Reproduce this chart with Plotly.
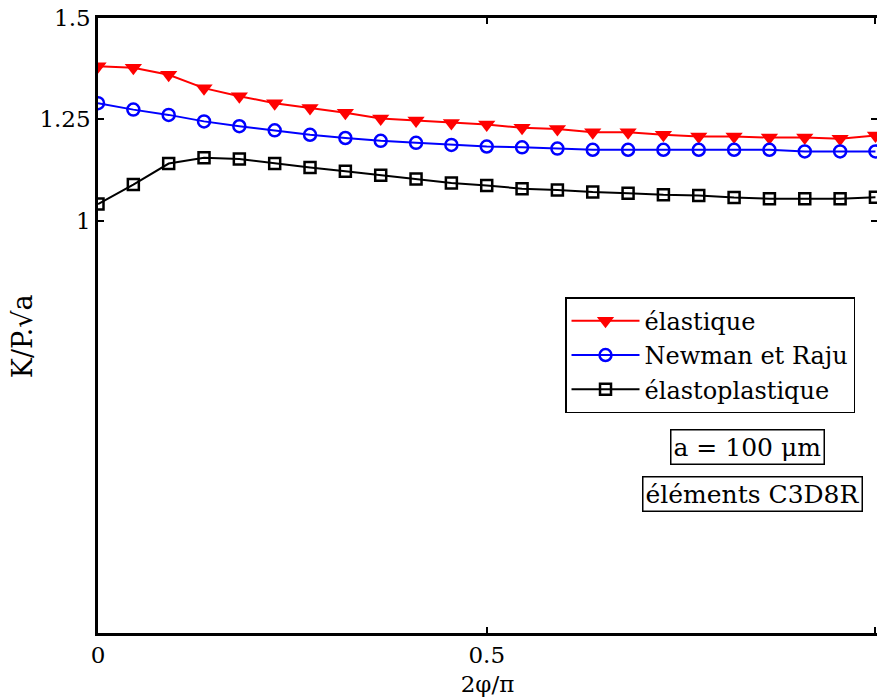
import plotly.graph_objects as go

n_points = 23
x_vals = [i / 22 for i in range(n_points)]

elastique = [1.381, 1.377, 1.360, 1.327, 1.307, 1.290, 1.278, 1.266, 1.252, 1.247,
             1.241, 1.237, 1.229, 1.226, 1.218, 1.218, 1.212, 1.208, 1.208, 1.205,
             1.205, 1.202, 1.210]
newman_raju = [1.290, 1.274, 1.261, 1.245, 1.233, 1.223, 1.212, 1.204, 1.197, 1.192,
               1.187, 1.183, 1.181, 1.178, 1.175, 1.175, 1.175, 1.175, 1.175, 1.175,
               1.171, 1.171, 1.171]
elastoplastique = [1.041, 1.089, 1.141, 1.155, 1.152, 1.141, 1.131, 1.122, 1.112, 1.103,
                   1.093, 1.087, 1.079, 1.076, 1.071, 1.068, 1.064, 1.062, 1.057, 1.054,
                   1.054, 1.054, 1.058]

x_ticks = [0, 0.5, 1]
x_ticklabels = ["0", "0.5", "1"]
y_ticks = [1, 1.25, 1.5]
y_ticklabels = ["1", "1.25", "1.5"]

FONT = "DejaVu Serif"

fig = go.Figure()
fig.add_trace(go.Scatter(x=x_vals, y=elastique, mode="lines+markers", name="élastique",
                         line=dict(color="#ff0000", width=2),
                         marker=dict(symbol="triangle-down", size=15, color="#ff0000")))
fig.add_trace(go.Scatter(x=x_vals, y=newman_raju, mode="lines+markers", name="Newman et Raju",
                         line=dict(color="#0000ff", width=2),
                         marker=dict(symbol="circle-open", size=12, color="#0000ff",
                                     line=dict(width=2.5, color="#0000ff"))))
fig.add_trace(go.Scatter(x=x_vals, y=elastoplastique, mode="lines+markers", name="élastoplastique",
                         line=dict(color="#000000", width=2),
                         marker=dict(symbol="square-open", size=11, color="#000000",
                                     line=dict(width=2.5, color="#000000"))))
# invisible trace to host the right-side tick axis
fig.add_trace(go.Scatter(x=[None], y=[None], yaxis="y2", showlegend=False, hoverinfo="skip"))

yr = [-0.017, 1.5]
fig.update_layout(
    template="none",
    width=877, height=700,
    margin=dict(l=98, r=0, t=18, b=67, autoexpand=False),
    paper_bgcolor="white", plot_bgcolor="white",
    font=dict(family=FONT, size=23, color="black"),
    xaxis=dict(range=[0, 1.002], tickvals=x_ticks, ticktext=x_ticklabels,
               ticks="inside", ticklen=6, tickwidth=2, tickcolor="black",
               showline=True, linecolor="black", linewidth=2.5, mirror="ticks",
               showgrid=False, zeroline=False, automargin=False,
               title=dict(text="2φ/π", font=dict(size=23), standoff=9)),
    yaxis=dict(range=yr, tickvals=y_ticks, ticktext=y_ticklabels,
               ticks="inside", ticklen=6, tickwidth=2, tickcolor="black",
               showline=True, linecolor="black", linewidth=2.5,
               showgrid=False, zeroline=False, automargin=False),
    yaxis2=dict(range=yr, overlaying="y", side="right", anchor="x",
                tickvals=y_ticks, ticks="inside", ticklen=6, tickwidth=2, tickcolor="black",
                showticklabels=False, showline=False, showgrid=False, zeroline=False,
                automargin=False),
    legend=dict(x=0.5995, y=0.546, xanchor="left", yanchor="top",
                bgcolor="white", bordercolor="black", borderwidth=1.5,
                font=dict(family=FONT, size=24), itemwidth=68),
    showlegend=True,
)

# y-axis title placed as a rotated annotation
fig.add_annotation(text="K/P.√a", xref="paper", yref="paper", x=-0.096, y=0.483,
                   xanchor="center", yanchor="middle", textangle=-90, showarrow=False,
                   font=dict(family=FONT, size=27))

fig.add_annotation(text="a = 100 μm", xref="paper", yref="paper", x=0.834, y=0.302,
                   xanchor="center", yanchor="middle",
                   showarrow=False, bordercolor="black", borderwidth=1.5, borderpad=2,
                   bgcolor="white", font=dict(family=FONT, size=25))
fig.add_annotation(text="éléments C3D8R", xref="paper", yref="paper", x=0.840, y=0.226,
                   xanchor="center", yanchor="middle",
                   showarrow=False, bordercolor="black", borderwidth=1.5, borderpad=2,
                   bgcolor="white", font=dict(family=FONT, size=25))

fig.write_html("out.html", config={"displayModeBar": False},
               post_script="document.body.style.margin='0px';")
